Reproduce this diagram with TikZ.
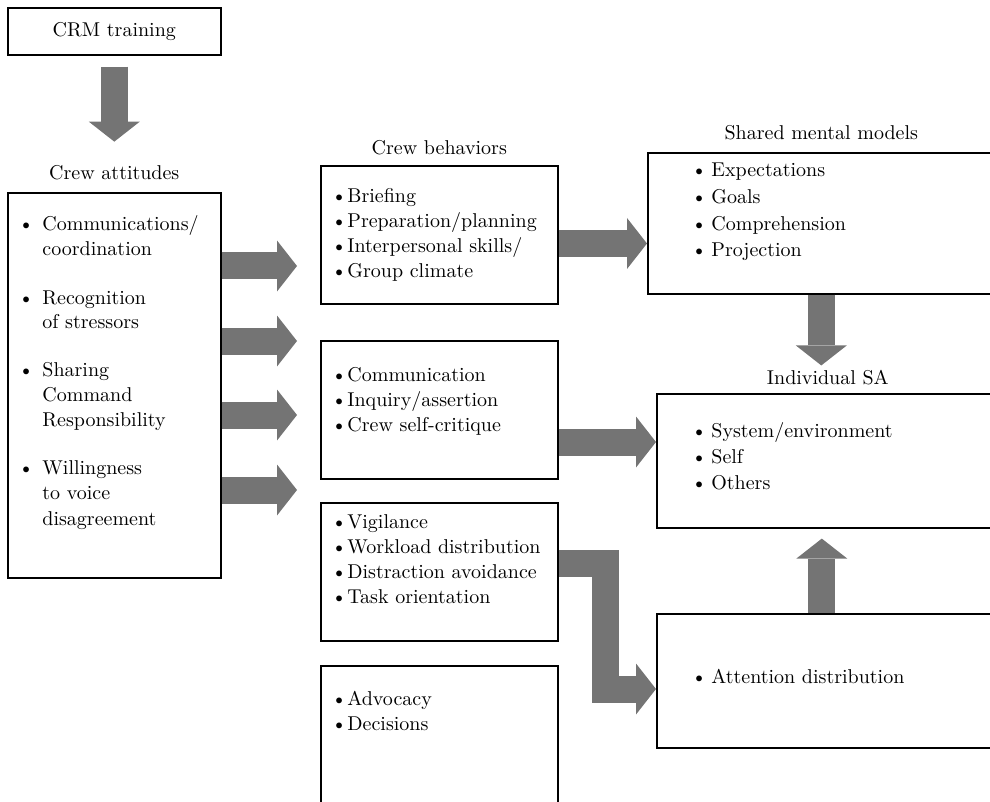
\documentclass[tikz,border=0pt]{standalone}
\usepackage{tikz}
\usetikzlibrary{arrows.meta,positioning}

\definecolor{arrowgray}{RGB}{116,116,116}
\newcommand{\bul}[1]{\makebox[#1][l]{\textbullet}}

\begin{document}
\begin{tikzpicture}[
x=0.5pt, y=-0.5pt,
font=\fontsize{10}{12.5}\selectfont,
box/.style={draw, line width=0.8pt, inner sep=0pt, anchor=north west},
lst/.style={inner sep=0pt, anchor=base west},
lbl/.style={inner sep=0pt},
fat/.style={draw=arrowgray, line width=13.5pt, line join=miter,
  -{Triangle[length=10pt, width=25.5pt, line width=0pt]}}
]
\useasboundingbox (0,0) rectangle (990,802);
\clip (0,0) rectangle (990,802);

% left column
\node[box, minimum width=106.5pt, minimum height=23.5pt] (crm) at (7,7) {CRM training};
\node[box, minimum width=106.5pt, minimum height=192.5pt] (att) at (7,192) {};
\node[lbl, above=6pt of att] (attlbl) {Crew attitudes};
\node[lst] (atttxt) at (18,231) {\begin{tabular}[t]{@{}l@{}}
\bul{12pt}Communications/\\
\hspace{12pt}coordination\\[11.5pt]
\bul{12pt}Recognition\\
\hspace{12pt}of stressors\\[11.5pt]
\bul{12pt}Sharing\\
\hspace{12pt}Command\\
\hspace{12pt}Responsibility\\[11.5pt]
\bul{12pt}Willingness\\
\hspace{12pt}to voice\\
\hspace{12pt}disagreement
\end{tabular}};

% crew behaviors
\node[box, minimum width=118.5pt, minimum height=69pt] (beh1) at (320,165) {};
\node[lbl, above=5pt of beh1] (behlbl) {Crew behaviors};
\node[box, minimum width=118.5pt, minimum height=69pt] (beh2) at (320,340) {};
\node[box, minimum width=118.5pt, minimum height=69pt] (beh3) at (320,502) {};
\node[box, minimum width=118.5pt, minimum height=90pt] (beh4) at (320,665) {};
\node[lst] (beh1txt) at (331,203) {\begin{tabular}[t]{@{}l@{}}
\bul{8pt}Briefing\\
\bul{8pt}Preparation/planning\\
\bul{8pt}Interpersonal skills/\\
\bul{8pt}Group climate
\end{tabular}};
\node[lst] (beh2txt) at (331,381) {\begin{tabular}[t]{@{}l@{}}
\bul{8pt}Communication\\
\bul{8pt}Inquiry/assertion\\
\bul{8pt}Crew self-critique
\end{tabular}};
\node[lst] (beh3txt) at (331,528) {\begin{tabular}[t]{@{}l@{}}
\bul{8pt}Vigilance\\
\bul{8pt}Workload distribution\\
\bul{8pt}Distraction avoidance\\
\bul{8pt}Task orientation
\end{tabular}};
\node[lst] (beh4txt) at (331,705) {\begin{tabular}[t]{@{}l@{}}
\bul{8pt}Advocacy\\
\bul{8pt}Decisions
\end{tabular}};

% right column
\node[box, minimum width=173.5pt, minimum height=70.5pt] (smm) at (647,152) {};
\node[lbl, above=6pt of smm] (smmlbl) {Shared mental models};
\node[lst, font=\fontsize{10}{13.3}\selectfont] (smmtxt) at (691,177) {\begin{tabular}[t]{@{}l@{}}
\bul{10pt}Expectations\\
\bul{10pt}Goals\\
\bul{10pt}Comprehension\\
\bul{10pt}Projection
\end{tabular}};
\node[box, minimum width=171pt, minimum height=67pt] (isa) at (656,393) {};
\node[lbl, above=4pt of isa] (isalbl) {Individual SA};
\node[lst, font=\fontsize{10}{13}\selectfont] (isatxt) at (691,437) {\begin{tabular}[t]{@{}l@{}}
\bul{10pt}System/environment\\
\bul{10pt}Self\\
\bul{10pt}Others
\end{tabular}};
\node[box, minimum width=171pt, minimum height=67pt] (attn) at (656,613) {};
\node[lst] (attntxt) at (691,683) {\bul{10pt}Attention distribution};

% arrows
\draw[fat] ([yshift=-5.5pt]crm.south) -- ([yshift=11.5pt]attlbl.north);
\foreach \y [count=\i] in {266,341,415,490} {
  \coordinate (t\i) at (297,\y);
  \draw[fat] (att.east |- t\i) -- (t\i);
}
\coordinate (p1) at (600,243.5);
\draw[fat] (beh1.east |- p1) -- (smm.west |- p1);
\draw[fat, shorten >=2pt] (smm.south) -- (smm.south |- isalbl.north);
\coordinate (p2) at (600,442);
\draw[fat] (beh2.east |- p2) -- (isa.west |- p2);
\coordinate (p3) at (605.5,563);
\coordinate (p4) at (605.5,689);
\draw[fat] (beh3.east |- p3) -- (p3) -- (p4) -- (attn.west |- p4);
\draw[fat] ([xshift=-3pt]attn.north) -- ([xshift=-3pt,yshift=-5pt]isa.south);
\end{tikzpicture}
\end{document}
